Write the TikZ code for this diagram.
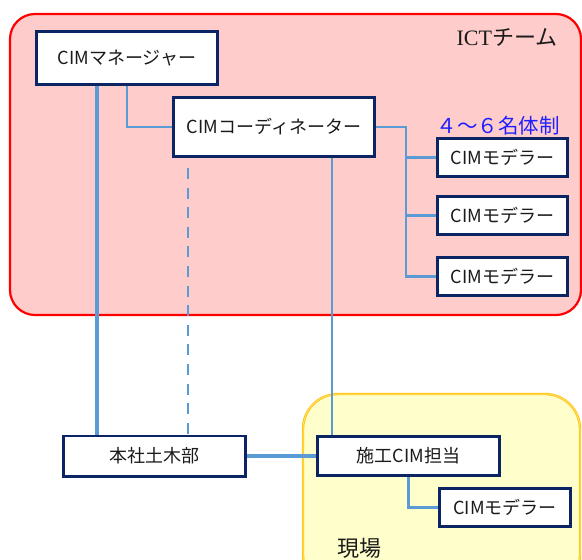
\documentclass[tikz,border=0pt]{standalone}
\usepackage{fontspec}
\setmainfont{Noto Sans CJK JP}
\newfontfamily\latinSerif{Liberation Serif}
\usepackage{tikz}
\usetikzlibrary{positioning, calc}
\definecolor{teamLine}{HTML}{FF0000}
\definecolor{teamFill}{HTML}{FFCCCC}
\definecolor{siteLine}{HTML}{FFC000}
\definecolor{siteFill}{HTML}{FFFFCC}
\definecolor{roleLine}{HTML}{0B2463}
\definecolor{linkBlue}{HTML}{5B9BD5}
\definecolor{noteBlue}{HTML}{2020FF}
\definecolor{nInk}{HTML}{1A1A1A}

\begin{document}
\begin{tikzpicture}[x=1pt, y=-1pt,
      role/.style={draw=roleLine, line width=2.6pt, fill=white, text=nInk, inner sep=0pt,
        minimum width=130.4pt, minimum height=38.4pt, align=center, font=\fontsize{18}{21}\selectfont},
      link/.style={draw=linkBlue, line width=2.8pt},
      trunk/.style={draw=linkBlue, line width=4.8pt},
      label/.style={text=nInk, inner sep=0pt, font=\fontsize{22}{25}\selectfont}]
      \clip (0,0) rectangle (582,560);
      % frames
      \draw[teamLine, line width=2.2pt, fill=teamFill, rounded corners=25pt] (10,14) rectangle (581,315);
      \draw[siteLine, line width=0.7pt, double=siteFill!50!siteLine, double distance=1pt,
        fill=siteFill, rounded corners=35pt] (303,394) rectangle (580,590);
      \node[label] (team) at (507,38) {{\latinSerif ICT}チーム};
      \node[label] (site) at (359,548) {現場};
      \node[label, text=noteBlue, font=\fontsize{20.5}{24}\selectfont] (note) at (498,126) {４～６名体制};
      % roles
      \node[role, minimum width=181.4pt, minimum height=53.4pt] (manager) at (127,58) {CIMマネージャー};
      \node[role, minimum width=201.4pt, minimum height=59.4pt] (coord) at (274,127) {CIMコーディネーター};
      \node[role] (modelerA) at (502.5,157.5) {CIMモデラー};
      \node[role, below=17pt of modelerA] (modelerB) {CIMモデラー};
      \node[role, below=20pt of modelerB] (modelerC) {CIMモデラー};
      \node[role, minimum width=182.4pt, minimum height=40.4pt] (honsha) at (154.5,456) {本社土木部};
      \node[role, minimum width=182.4pt, minimum height=39.4pt] (sekou) at (408.5,456) {施工CIM担当};
      \node[role, minimum width=131.4pt] (modelerD) at (505,507.5) {CIMモデラー};
      % links
      \coordinate (mgrDrop) at (97,86);
      \coordinate (coordDrop) at (332,158);
      \coordinate (dashTop) at (188,168);
      \coordinate (bus) at ($(coord.east)+(30,0)$);
      \draw[trunk] (mgrDrop) -- (mgrDrop |- honsha.north);
      \draw[trunk] (honsha.east) -- (sekou.west);
      \draw[link] (manager.south) |- (coord.west);
      \draw[link] (coord.east) -- (bus) |- (modelerC.west);
      \foreach \m in {modelerA, modelerB}
        \draw[link] (bus) |- (\m.west);
      \draw[link, line width=2.4pt] (coordDrop) -- (coordDrop |- sekou.north);
      \draw[link, dash pattern=on 11pt off 8.6pt] (dashTop) -- (dashTop |- honsha.north);
      \draw[link] (sekou.south) |- (modelerD.west);
    \end{tikzpicture}
\end{document}
